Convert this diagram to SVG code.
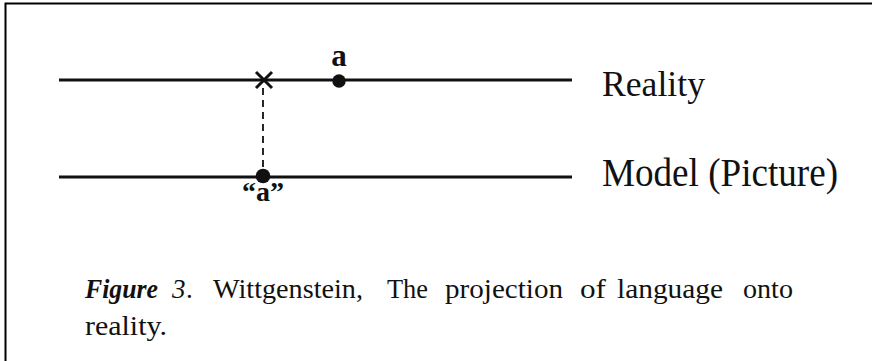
<svg xmlns="http://www.w3.org/2000/svg" width="872" height="361" viewBox="0 0 872 361">
<style>
.ln{stroke:#111;stroke-width:3;fill:none}
.lbl{font-family:"Liberation Serif",serif;fill:#111}
.cap{font-family:"Liberation Serif",serif;font-size:27px;fill:#111}
</style>
<rect width="872" height="361" fill="#fff"/>
<g id="frame"><path d="M5.5 361 V3.5 H872" stroke="#000" stroke-width="2" fill="none"/></g>
<g id="reality">
<line class="ln" x1="59" y1="80" x2="572" y2="80"/>
<text class="lbl" x="602" y="96" font-size="36" textLength="103" lengthAdjust="spacingAndGlyphs">Reality</text>
</g>
<g id="model">
<line class="ln" x1="59" y1="177" x2="572" y2="177"/>
<text class="lbl" x="602" y="186" font-size="41" textLength="236" lengthAdjust="spacingAndGlyphs">Model (Picture)</text>
</g>
<g id="x-mark"><path class="ln" d="M256 72 L272 88 M272 72 L256 88" stroke-width="2.5"/></g>
<g id="point-a"><circle cx="339" cy="81" r="6.7" fill="#111"/><text class="lbl" x="339" y="66" font-size="31" font-weight="bold" text-anchor="middle">a</text></g>
<g id="point-a-quoted"><circle cx="263" cy="176" r="7.3" fill="#111"/><text class="lbl" x="263" y="201" font-size="28" font-weight="bold" text-anchor="middle">“a”</text></g>
<g id="connectors"><line x1="263" y1="88" x2="263" y2="169" stroke="#111" stroke-width="1.8" stroke-dasharray="7 5"/></g>
<g id="caption">
<text class="cap" y="298"><tspan x="85" font-weight="bold" font-style="italic" textLength="73" lengthAdjust="spacingAndGlyphs">Figure</tspan><tspan x="172" font-style="italic">3</tspan><tspan x="186">.</tspan><tspan x="213" textLength="150" lengthAdjust="spacingAndGlyphs">Wittgenstein,</tspan><tspan x="387" textLength="41" lengthAdjust="spacingAndGlyphs">The</tspan><tspan x="445" textLength="118" lengthAdjust="spacingAndGlyphs">projection</tspan><tspan x="580" textLength="26" lengthAdjust="spacingAndGlyphs">of</tspan><tspan x="617" textLength="106" lengthAdjust="spacingAndGlyphs">language</tspan><tspan x="743" textLength="50" lengthAdjust="spacingAndGlyphs">onto</tspan></text>
<text class="cap" x="85" y="335" textLength="82" lengthAdjust="spacingAndGlyphs">reality.</text>
</g>
</svg>
